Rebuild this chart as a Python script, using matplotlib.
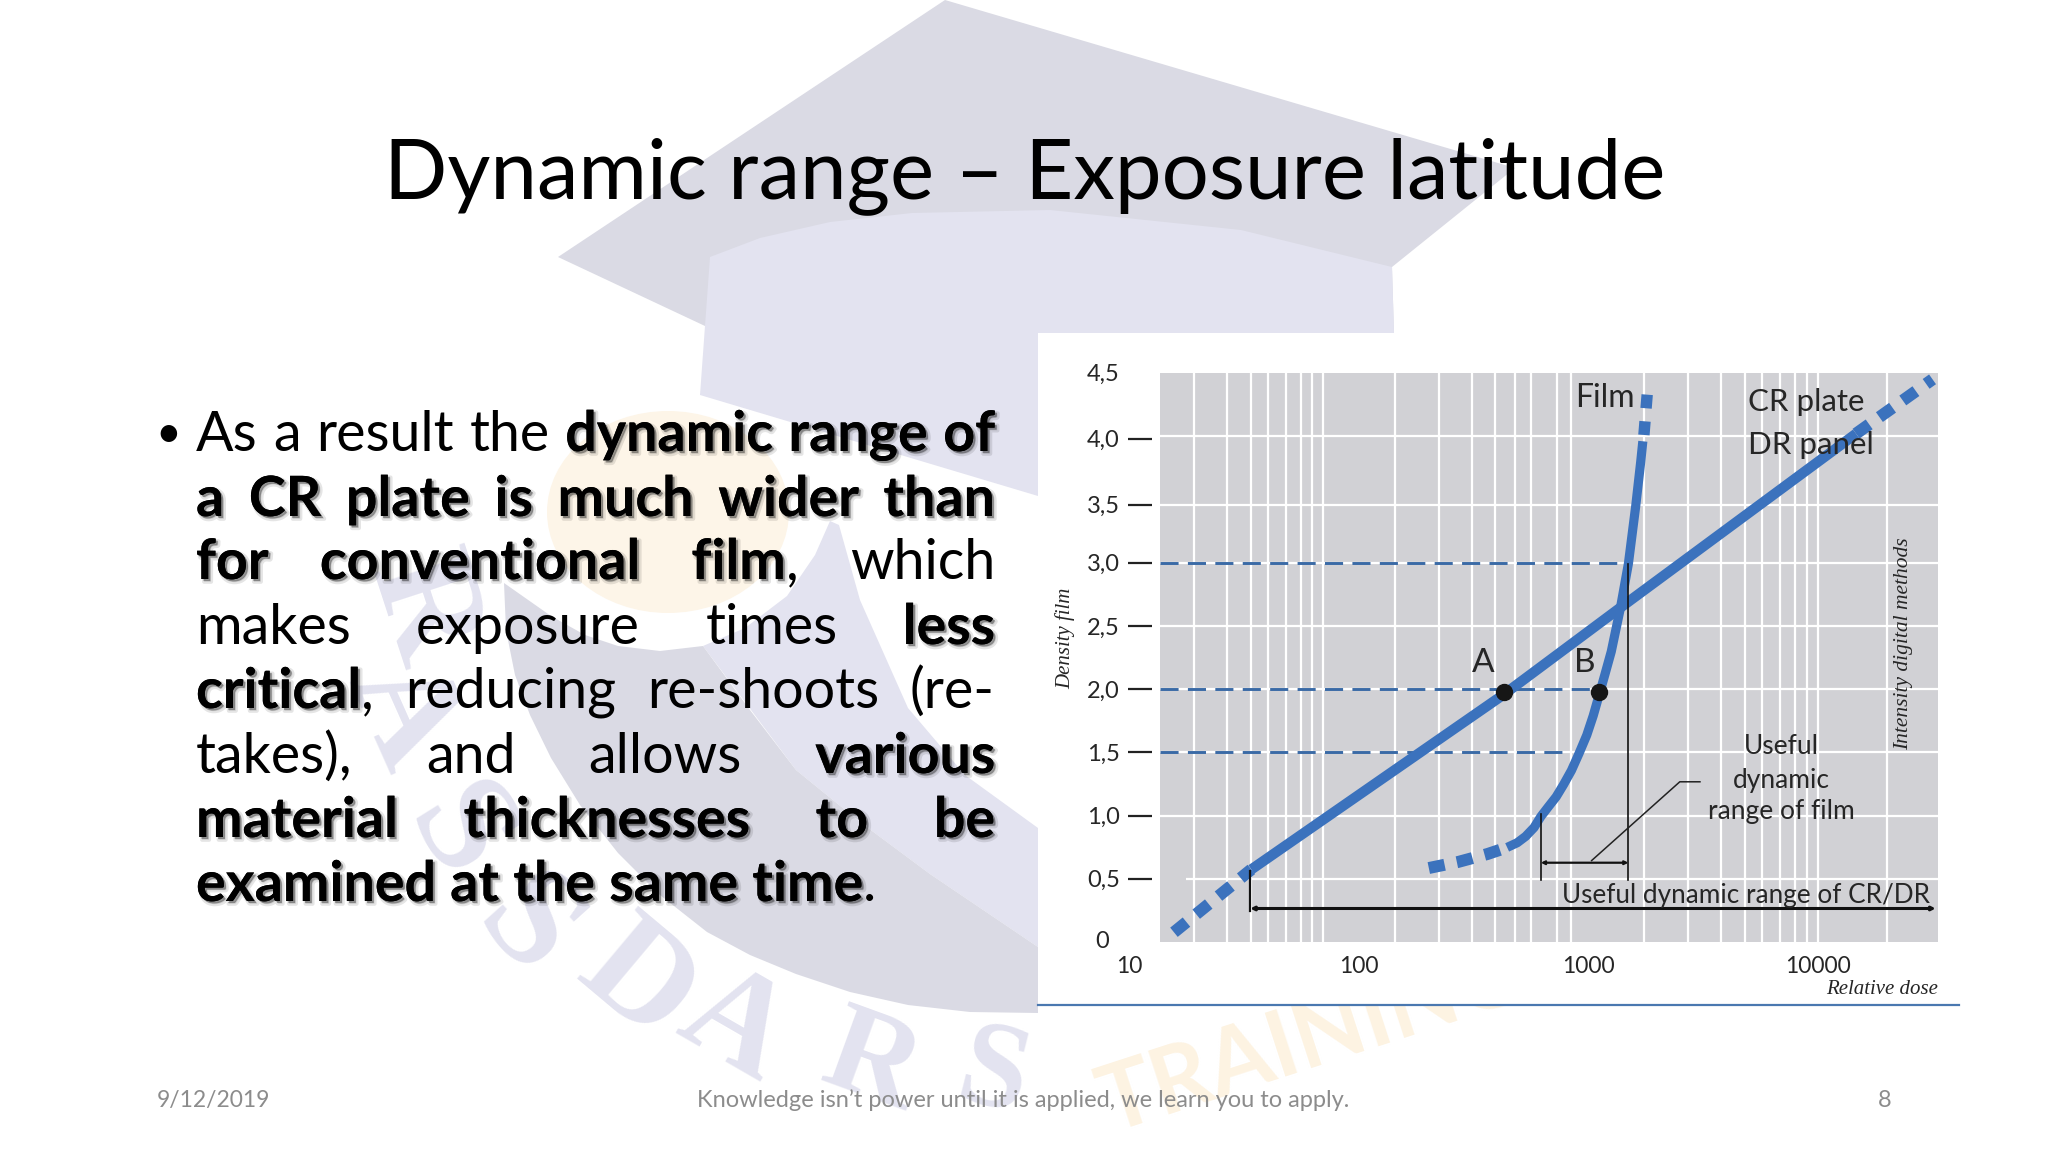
import matplotlib
matplotlib.use("Agg")
import matplotlib.pyplot as plt
import matplotlib.patheffects as pe
from matplotlib.patches import Polygon, Ellipse, Rectangle

# ---- chart values ----
cr_low_dose = [15.7, 34.1]
cr_low_density = [0.077, 0.574]
cr_dose = [34.1, 430, 1380, 14630]
cr_density = [0.574, 1.96, 2.645, 4.02]
cr_high_dose = [14630, 31500]
cr_high_density = [4.02, 4.45]

film_low_dose = [202, 271, 364, 443]
film_low_density = [0.585, 0.633, 0.696, 0.748]
film_dose = [443, 490, 533, 580, 621, 670, 724, 780, 844, 910, 984, 1050, 1112, 1180, 1258, 1380, 1494, 1607, 1689, 1726]
film_density = [0.748, 0.785, 0.835, 0.905, 0.992, 1.07, 1.148, 1.245, 1.357, 1.49, 1.636, 1.79, 1.949, 2.115, 2.297, 2.645, 2.993, 3.446, 3.794, 3.96]
film_high_dose = [1745, 1805]
film_high_density = [4.01, 4.34]

point_dose = [430, 1112]
point_density = [1.98, 1.98]
point_names = ["A", "B"]

ref_density = [3.0, 2.0, 1.5]
ref_dose_end = [1494, 1112, 818]

x_tick_values = [10, 100, 1000, 10000]
x_tick_labels = ["10", "100", "1000", "10000"]
y_tick_values = [0.5, 1.0, 1.5, 2.0, 2.5, 3.0, 3.46, 3.98]
y_tick_labels = ["0,5", "1,0", "1,5", "2,0", "2,5", "3,0", "3,5", "4,0"]
grid_dose = [19.2, 26.6, 33.9, 40.4, 48.1, 56.1, 62.6, 69.9, 144, 223, 310, 394, 481, 561,
             728, 838, 1750, 2705, 3780, 4810, 5680, 6820, 7930, 8920, 9960, 20000]
grid_density = [1.0, 1.5, 2.0, 2.5, 3.0, 3.46, 4.0]

title_text = "Dynamic range – Exposure latitude"
body_lines = [
    "As a result the *dynamic *range *of",
    "*a *CR *plate *is *much *wider *than",
    "*for *conventional *film^, which",
    "makes exposure times *less",
    "*critical^, reducing re-shoots (re-",
    "takes), and allows *various",
    "*material *thicknesses *to *be",
    "*examined *at *the *same *time^.",
]
footer_date = "9/12/2019"
footer_mid = "Knowledge isn’t power until it is applied, we learn you to apply."
footer_page = "8"

# ---- style ----
BLUE = "#3b72bd"
DASH_BLUE = "#3a6aa6"
GRID_BG = "#d1d1d5"
INK = "#262626"
MAIN = "Lato"
COND = "Lato"
SERIF = "Liberation Serif"

fig = plt.figure(figsize=(20.48, 11.52), dpi=100, facecolor="white")

# ---- slide background, in pixel space ----
bg = fig.add_axes([0, 0, 1, 1], zorder=0)
bg.set_xlim(0, 2048)
bg.set_ylim(1152, 0)
bg.axis("off")

DARK = "#dadae4"
LIGHT = "#e3e3f0"
bg.add_patch(Polygon([(945, 0), (1515, 168), (1392, 267), (1394, 333), (705, 333), (705, 326), (558, 257)],
                     fc=DARK, ec="none", zorder=1))
bg.add_patch(Polygon([(710, 257), (760, 238), (830, 222), (912, 213), (1050, 210), (1241, 230), (1392, 267),
                      (1394, 333), (1038, 333), (1038, 496), (700, 395)], fc=LIGHT, ec="none", zorder=2))
bg.add_patch(Ellipse((668, 512), 242, 202, fc="#fdf5e8", ec="none", zorder=1))
bg.add_patch(Polygon([(703, 646), (745, 628), (787, 596), (815, 555), (830, 521), (839, 525), (860, 600), (908, 708),
                      (965, 775), (1038, 828), (1038, 947), (930, 874), (860, 822), (796, 770)],
                     fc=LIGHT, ec="none", zorder=2))
bg.add_patch(Polygon([(504, 583), (551, 616), (585, 635), (618, 646), (660, 651), (703, 646), (750, 710), (796, 770),
                      (860, 822), (930, 874), (1038, 947), (1038, 1013), (970, 1012), (908, 1005), (850, 992),
                      (796, 974), (750, 955), (707, 932), (660, 895), (618, 853), (580, 805), (551, 758), (530, 715),
                      (515, 675), (506, 630)], fc=DARK, ec="none", zorder=2))
arc_letters = [("R", 420, 610, -72, 104), ("A", 400, 715, -66, 104), ("S", 455, 835, -58, 104), ("S", 525, 930, -48, 104),
               ("D", 636, 985, -40, 104), ("A", 734, 1028, -30, 100), ("R", 872, 1066, -20, 92), ("S", 993, 1078, -14, 88)]
for ch, px, py, rot, fs in arc_letters:
    bg.text(px, py, ch, family=SERIF, weight="bold", fontsize=fs, color=LIGHT, rotation=rot,
            ha="center", va="center", rotation_mode="anchor", zorder=1.5)
bg.text(1110, 1134, "TRAINING", family=MAIN, weight="bold", fontsize=66, color="#fdf3e2", rotation=18,
        ha="left", va="baseline", rotation_mode="anchor", zorder=1.5)
bg.add_patch(Rectangle((1038, 333), 922, 671, fc="white", ec="none", zorder=3))
bg.plot([1038, 1959], [1004.5, 1004.5], color="#4a78b0", lw=1.6, zorder=4)

# title
bg.text(1024.5, 198, title_text, family=MAIN, fontsize=60, color="black", ha="center", va="baseline", zorder=6)

# justified body text
BODY_SIZE = 40
LEFT, RIGHT = 196, 995
baselines = [451, 516, 579, 644, 708, 773, 837, 901]
fig.canvas.draw()
rend = fig.canvas.get_renderer()
shadow = [pe.Stroke(linewidth=3, foreground="black", alpha=0.10, offset=(2, -2)),
          pe.withSimplePatchShadow(offset=(1.5, -1.5), shadow_rgbFace="black", alpha=0.35), pe.Normal()]


def measure(s, bold):
    t = bg.text(0, 0, s, family=MAIN, fontsize=BODY_SIZE, weight="bold" if bold else "normal")
    w = t.get_window_extent(rend).width
    t.remove()
    return w


def parse(word):
    if word.startswith("*"):
        parts = word[1:].split("^")
        segs = [(parts[0], True)]
        if len(parts) > 1:
            segs.append((parts[1], False))
        return segs
    return [(word, False)]


space = measure("a a", False) - measure("aa", False)
for i, (line, base) in enumerate(zip(body_lines, baselines)):
    words = [parse(w) for w in line.split()]
    widths = [sum(measure(s, b) for s, b in segs) for segs in words]
    if i == len(body_lines) - 1:
        gap = space
    else:
        gap = (RIGHT - LEFT - sum(widths)) / (len(words) - 1)
    x = LEFT
    for segs, width in zip(words, widths):
        cx = x
        for s, b in segs:
            t = bg.text(cx, base, s, family=MAIN, fontsize=BODY_SIZE, color="black",
                        weight="bold" if b else "normal", ha="left", va="baseline", zorder=6)
            if b:
                t.set_path_effects(shadow)
            cx += measure(s, b)
        x += width + gap
bg.text(155, 447, "•", family=MAIN, fontsize=32, color="black", ha="left", va="baseline", zorder=6)

# footer
FOOT = "#8c8c8c"
bg.text(157, 1107, footer_date, family=MAIN, fontsize=16.5, color=FOOT, ha="left", va="baseline", zorder=6)
bg.text(1023, 1107, footer_mid, family=MAIN, fontsize=17, color=FOOT, ha="center", va="baseline", zorder=6)
bg.text(1885, 1107, footer_page, family=MAIN, fontsize=17, color=FOOT, ha="center", va="baseline", zorder=6)

# ---- chart ----
ax = fig.add_axes([1160 / 2048, 1 - 942 / 1152, 778 / 2048, 569 / 1152], zorder=1)
ax.set_xscale("log")
ax.set_xlim(13.65, 33270)
ax.set_ylim(0, 4.5)
ax.set_facecolor(GRID_BG)
for name, sp in ax.spines.items():
    sp.set_visible(False)
ax.spines["left"].set_position(("outward", 6))
ax.minorticks_off()
ax.set_xticks([])
ax.set_yticks(y_tick_values)
ax.set_yticklabels(y_tick_labels, family=COND, fontsize=17, color=INK)
ax.tick_params(axis="y", length=17, width=1.6, color="#222222", pad=6)
ax.tick_params(axis="x", which="both", length=0)

ax.vlines(grid_dose, 0, 4.5, color="white", lw=1.6, zorder=1)
ax.hlines(grid_density, 13.65, 33270, color="white", lw=1.6, zorder=1)
ax.hlines([0.5], 17.7, 33270, color="white", lw=1.6, zorder=1)

for d, end in zip(ref_density, ref_dose_end):
    ax.plot([13.65, end], [d, d], color=DASH_BLUE, lw=2.1, linestyle=(0, (6.2, 3.2)), zorder=2)

dash = (0, (1.35, 1.05))
ax.plot(cr_low_dose, cr_low_density, color=BLUE, lw=8.6, linestyle=dash, dash_capstyle="butt", zorder=3)
ax.plot(cr_dose, cr_density, color=BLUE, lw=7.4, solid_capstyle="butt", zorder=3)
ax.plot(cr_high_dose, cr_high_density, color=BLUE, lw=8.6, linestyle=dash, dash_capstyle="butt", zorder=3)
ax.plot(film_low_dose, film_low_density, color=BLUE, lw=8.6, linestyle=dash, dash_capstyle="butt", zorder=3)
ax.plot(film_dose, film_density, color=BLUE, lw=6.6, solid_capstyle="butt", solid_joinstyle="round", zorder=3)
ax.plot(film_high_dose, film_high_density, color=BLUE, lw=8.2, linestyle=(0, (1.2, 1.15)), dash_capstyle="butt", zorder=3)

# brackets
K = "#111111"
ax.plot([1494, 1494], [0.487, 2.993], color=K, lw=1.2, zorder=4)
ax.plot([621, 621], [0.487, 1.016], color=K, lw=1.2, zorder=4)
ax.annotate("", xy=(1494, 0.627), xytext=(621, 0.627),
            arrowprops=dict(arrowstyle="<->", color=K, lw=1.6, mutation_scale=5, shrinkA=0, shrinkB=0), zorder=4)
ax.plot([1033, 2500, 3060], [0.644, 1.267, 1.267], color="#222222", lw=1.1, zorder=4)
ax.plot([33.7, 33.7], [0.244, 0.564], color=K, lw=1.6, zorder=4)
ax.annotate("", xy=(32500, 0.265), xytext=(33.7, 0.265),
            arrowprops=dict(arrowstyle="<->", color=K, lw=2.2, mutation_scale=5, shrinkA=0, shrinkB=0), zorder=4)

# points
ax.plot(point_dose, point_density, "o", color="#161616", ms=11.5, zorder=5)

# labels
kw = dict(family=COND, color=INK, zorder=6)
for label, xv in zip(point_names, [348, 967]):
    ax.text(xv, 2.21, label, fontsize=24, ha="center", va="center", **kw)
ax.text(1596, 4.30, "Film", fontsize=23, ha="right", va="center", **kw)
ax.text(4950, 4.27, "CR plate", fontsize=22.5, ha="left", va="center", **kw)
ax.text(4950, 3.93, "DR panel", fontsize=22.5, ha="left", va="center", **kw)
ax.text(6890, 1.55, "Useful", fontsize=19, ha="center", va="center", **kw)
ax.text(6890, 1.28, "dynamic", fontsize=19, ha="center", va="center", **kw)
ax.text(6890, 1.03, "range of film", fontsize=19, ha="center", va="center", **kw)
ax.text(764, 0.37, "Useful dynamic range of CR/DR", fontsize=18.8, ha="left", va="center", **kw)

for v, lab in zip(x_tick_values, x_tick_labels):
    ax.text(v, -0.19, lab, family=COND, fontsize=16.5, color=INK, ha="center", va="center")
ax.text(7.63, 0, "0", family=COND, fontsize=17, color=INK, ha="center", va="center")
ax.text(7.7, 4.49, "4,5", family=COND, fontsize=17, color=INK, ha="center", va="center")

sk = dict(family=SERIF, style="italic", color=INK)
ax.text(5.27, 2.40, "Density film", fontsize=15, rotation=90, ha="center", va="center", **sk)
ax.text(23660, 2.36, "Intensity digital methods", fontsize=15.5, rotation=90, ha="center", va="center", **sk)
ax.text(33400, -0.372, "Relative dose", fontsize=15, ha="right", va="center", **sk)

fig.savefig("out.png", dpi=100)
